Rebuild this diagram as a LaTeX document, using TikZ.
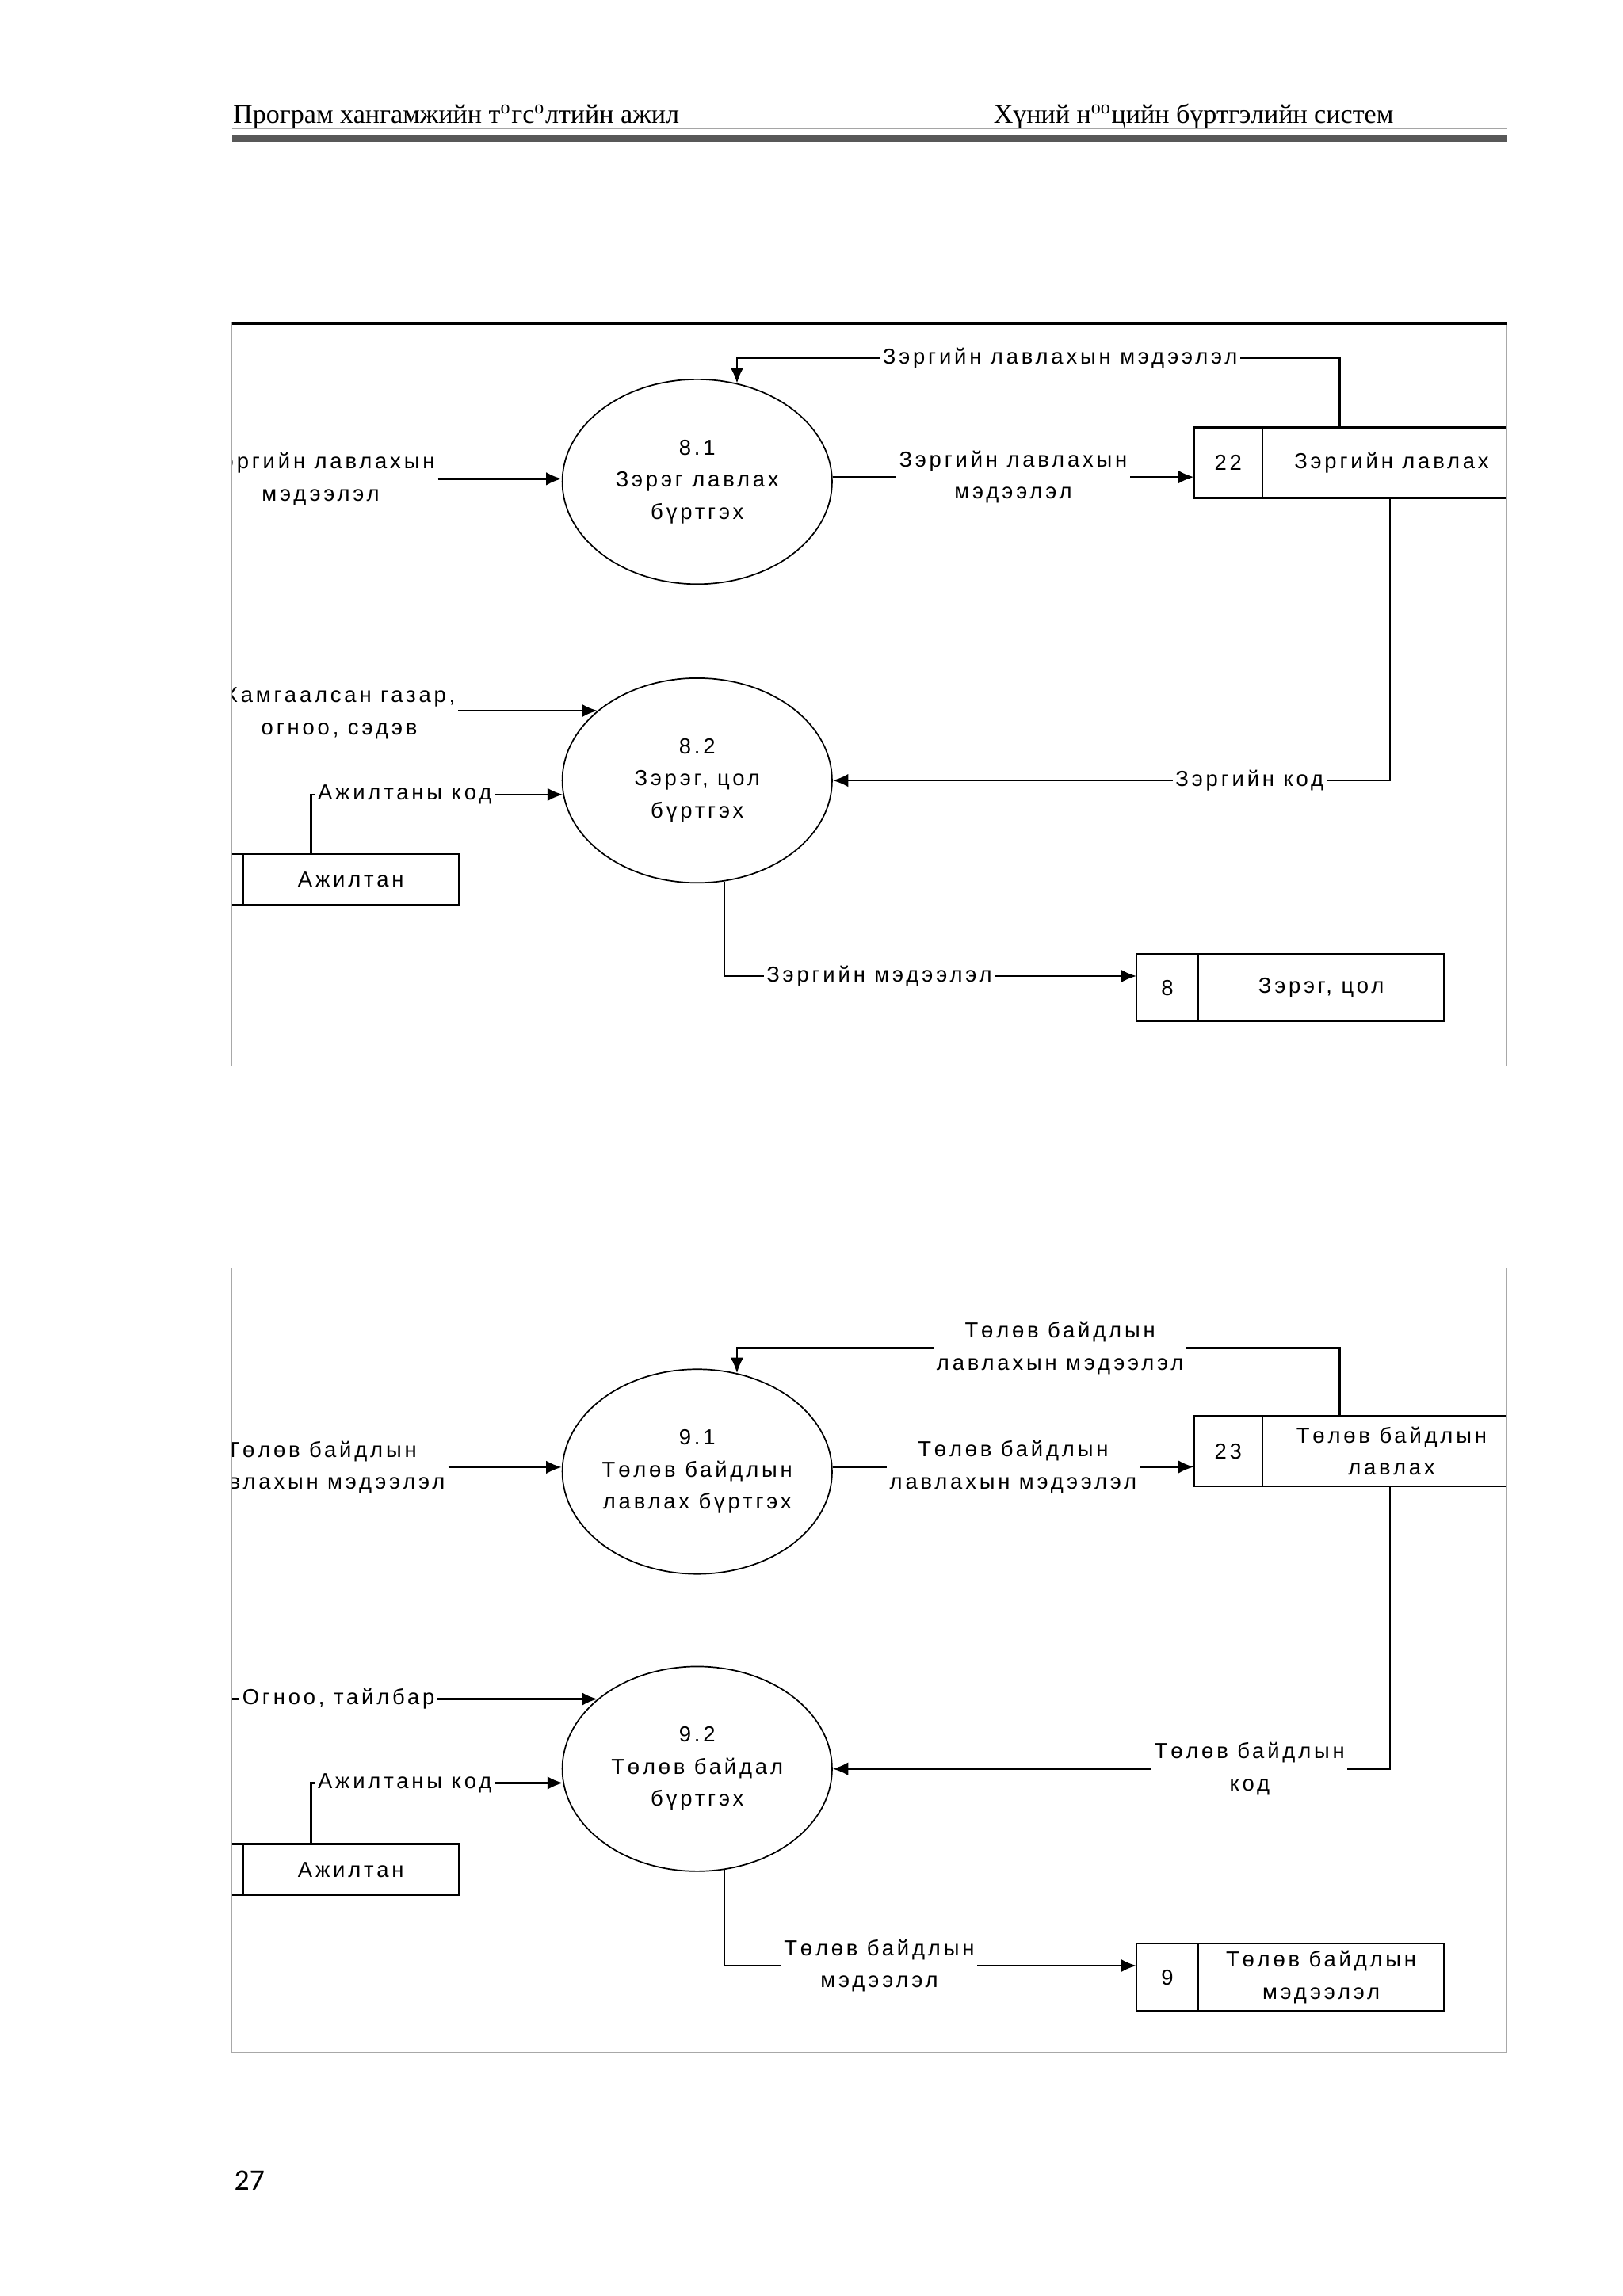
\documentclass[tikz,border=0pt]{standalone}
\usepackage{fontspec}
\setmainfont{Liberation Serif}
\newfontfamily\dfdfont{Liberation Sans}[LetterSpace=14]
\newfontfamily\pgnumfont{Carlito}
\usepackage{tikz}
\usetikzlibrary{arrows.meta,positioning,shapes.geometric}
\definecolor{FrameGray}{RGB}{168,168,168}
\definecolor{RuleGray}{RGB}{165,165,165}
\definecolor{BarGray}{RGB}{88,88,88}

\begin{document}
\begin{tikzpicture}[
    x=0.18953mm, y=-0.18953mm,
    proc/.style={ellipse, draw, line width=0.5pt, minimum width=34.9mm, minimum height=26.5mm, inner sep=0pt, align=center, font=\dfdfont\fontsize{8}{11.8}\selectfont},
    storenum/.style={rectangle, draw, line width=0.7pt, outer sep=0pt, inner sep=0pt, align=center, font=\dfdfont\fontsize{8}{11.8}\selectfont},
    storename/.style={rectangle, draw, line width=0.7pt, outer sep=0pt, inner sep=0pt, align=center, font=\dfdfont\fontsize{8}{11.8}\selectfont},
    lbl/.style={fill=white, inner sep=1pt, align=center, font=\dfdfont\fontsize{8}{11.8}\selectfont},
    flow/.style={-{Latex[length=2mm,width=1.7mm]}, line width=0.7pt},
    hdr/.style={anchor=base west, inner sep=0pt, font=\fontsize{9.95}{12}\selectfont}
  ]
    \useasboundingbox[fill=white] (0,0) rectangle (1108,1568);

    \node[hdr] (hleft) at (158.8,84.2) {Програм хангамжийн т\textsuperscript{o}гс\textsuperscript{o}лтийн ажил};
    \node[hdr] (hright) at (678,84.2) {Хүний н\textsuperscript{oo}цийн бүртгэлийн систем};
    \draw[RuleGray, line width=0.4pt] (158.3,88) -- (1028.5,88);
    \fill[BarGray] (158.3,92.5) rectangle (1028.5,97);

    \begin{scope}
      \clip (158.3,220) rectangle (1028.5,728);
      \node[proc] (e81) at (476,329) {8.1\\Зэрэг лавлах\\бүртгэх};
      \node[proc] (e82) at (476,533) {8.2\\Зэрэг, цол\\бүртгэх};
      \node[storenum, minimum width=8.9mm, minimum height=9.1mm] (s22n) at (838.5,316) {22};
      \node[storename, minimum width=33.4mm, minimum height=9.1mm, right=0pt of s22n] (s22) {Зэргийн лавлах};
      \node[storenum, minimum width=6.8mm, minimum height=6.6mm] (aj1n) at (148,600.75) {};
      \node[storename, minimum width=27.9mm, minimum height=6.6mm, right=0pt of aj1n] (aj1) {Ажилтан};
      \node[storenum, minimum width=8.0mm, minimum height=8.7mm] (s8n) at (797,674.5) {8};
      \node[storename, minimum width=31.8mm, minimum height=8.7mm, right=0pt of s8n] (s8) {Зэрэг, цол};
      \node[lbl, fill=none, anchor=east] (in81) at (299,327) {Зэргийн лавлахын\\мэдээлэл};
      \node[lbl, fill=none, anchor=east] (hg) at (313,487) {Хамгаалсан газар,\\огноо, сэдэв};
      \coordinate (fb81) at (0,244.6);

      \draw[flow] (in81.east) -- (e81.west |- in81.east);
      \draw[flow] (e81.2) -- node[lbl] {Зэргийн лавлахын\\мэдээлэл} (s22n.west |- e81.2);
      \draw[flow] ([xshift=10mm]s22.north west) |- node[lbl, pos=0.732] {Зэргийн лавлахын мэдээлэл} (e81.68 |- fb81) -- (e81.68);
      \draw[flow] ([xshift=16.5mm]s22.south west) |- node[lbl, pos=0.626] {Зэргийн код} (e82.east);
      \draw[flow] (e82.145 -| hg.east) -- (e82.145);
      \draw[flow] ([xshift=8.8mm]aj1.north west) |- node[lbl, anchor=west, pos=0.5, xshift=0.4mm] {Ажилтаны код} (e82.186);
      \draw[flow] (e82.285) |- node[lbl, pos=0.688] {Зэргийн мэдээлэл} ([yshift=1.5mm]s8n.west);
    \end{scope}
    \draw[FrameGray, line width=0.4pt] (158.3,220) rectangle (1028.5,728);
    \draw[line width=0.8pt] (158.3,221) -- (1028.5,221);

    \begin{scope}
      \clip (158.3,866) rectangle (1028.5,1401.6);
      \node[proc] (e91) at (476,1005) {9.1\\Төлөв байдлын\\лавлах бүртгэх};
      \node[proc] (e92) at (476,1208) {9.2\\Төлөв байдал\\бүртгэх};
      \node[storenum, minimum width=8.9mm, minimum height=9.1mm] (s23n) at (838.5,991) {23};
      \node[storename, minimum width=33.4mm, minimum height=9.1mm, right=0pt of s23n] (s23) {Төлөв байдлын\\лавлах};
      \node[storenum, minimum width=6.8mm, minimum height=6.6mm] (aj2n) at (148,1276.75) {};
      \node[storename, minimum width=27.9mm, minimum height=6.6mm, right=0pt of aj2n] (aj2) {Ажилтан};
      \node[storenum, minimum width=8.0mm, minimum height=8.7mm] (s9n) at (797,1350.3) {9};
      \node[storename, minimum width=31.8mm, minimum height=8.7mm, right=0pt of s9n] (s9) {Төлөв байдлын\\мэдээлэл};
      \node[lbl, fill=none, anchor=east] (in91) at (306,1002) {Төлөв байдлын\\лавлахын мэдээлэл};
      \coordinate (fb91) at (0,920.6);
      \coordinate (og) at (140,0);

      \draw[flow] (in91.east) -- (e91.west |- in91.east);
      \draw[flow] (e91.2) -- node[lbl] {Төлөв байдлын\\лавлахын мэдээлэл} (s23n.west |- e91.2);
      \draw[flow] ([xshift=10mm]s23.north west) |- node[lbl, pos=0.732] {Төлөв байдлын\\лавлахын мэдээлэл} (e91.68 |- fb91) -- (e91.68);
      \draw[flow] ([xshift=16.5mm]s23.south west) |- node[lbl, pos=0.626] {Төлөв байдлын\\код} (e92.east);
      \draw[flow] (e92.145 -| og) -- node[lbl, pos=0.34] {Огноо, тайлбар} (e92.145);
      \draw[flow] ([xshift=8.8mm]aj2.north west) |- node[lbl, anchor=west, pos=0.5, xshift=0.4mm] {Ажилтаны код} (e92.186);
      \draw[flow] (e92.285) |- node[lbl, pos=0.688] {Төлөв байдлын\\мэдээлэл} ([yshift=1.5mm]s9n.west);
    \end{scope}
    \draw[FrameGray, line width=0.4pt] (158.3,866) rectangle (1028.5,1401.6);

    \node[anchor=base west, inner sep=0pt, font=\pgnumfont\fontsize{11}{13}\selectfont] (pgno) at (159.6,1496) {27};
  \end{tikzpicture}
\end{document}
